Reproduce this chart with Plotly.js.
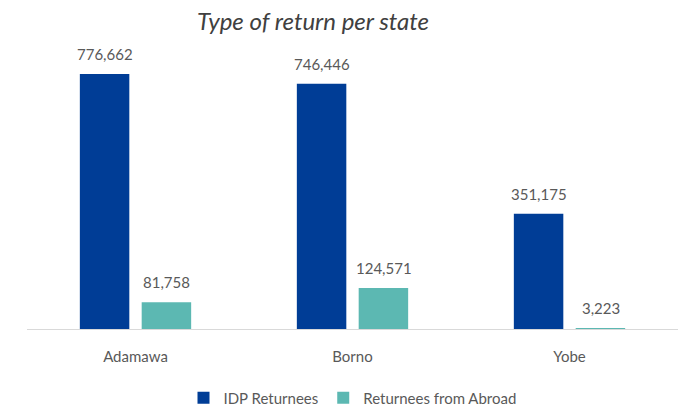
<!DOCTYPE html>
<html>
<head>
<meta charset="utf-8">
<script src="https://cdn.plot.ly/plotly-3.0.1.min.js"></script>
<style>html,body{margin:0;padding:0;background:#fff}#chart{width:684px;height:407px}</style>
</head>
<body>
<div id="chart"></div>
<script>
const states = ["Adamawa", "Borno", "Yobe"];
const idpReturnees = [776662, 746446, 351175];
const abroadReturnees = [81758, 124571, 3223];
const seriesNames = ["IDP Returnees", "Returnees from Abroad"];
const colors = ["#003d96", "#5cb8b2"];

const fontFamily = "Lato, 'Open Sans', sans-serif";
const txtColor = "#595959";

const traces = [
  {type: "bar", name: seriesNames[0], x: states, y: idpReturnees, marker: {color: colors[0]}, hoverinfo: "none"},
  {type: "bar", name: seriesNames[1], x: states, y: abroadReturnees, marker: {color: colors[1]}, hoverinfo: "none"}
];

const fmt = v => v.toLocaleString("en-US");
const annotations = [];
[idpReturnees, abroadReturnees].forEach((arr, si) => {
  arr.forEach((v, i) => {
    annotations.push({
      x: states[i], y: v, xref: "x", yref: "y",
      text: fmt(v), showarrow: false,
      xshift: si === 0 ? -31 : 31,
      yanchor: "bottom", yshift: 9,
      font: {family: fontFamily, size: 15, color: txtColor}
    });
  });
});

const layout = {
  width: 684, height: 407,
  margin: {l: 27, r: 6, t: 40, b: 78, autoexpand: false},
  paper_bgcolor: "#fff", plot_bgcolor: "#fff",
  title: {text: "<i>Type of return per state</i>", x: 313/684, xanchor: "center", y: 1 - 22/407, yanchor: "middle",
          font: {family: fontFamily, size: 24, color: "#404040"}},
  barmode: "group", bargap: 0.43, bargroupgap: 0.2,
  xaxis: {showline: true, linecolor: "#d9d9d9", linewidth: 1, ticks: "", showgrid: false, automargin: false,
          tickfont: {family: fontFamily, size: 15, color: txtColor}, ticklabelstandoff: 14},
  yaxis: {range: [0, 880000], visible: false, showgrid: false, zeroline: false, automargin: false},
  showlegend: true,
  legend: {orientation: "h", x: 342/684, xanchor: "center", xref: "paper",
           yref: "container", y: 1 - 398/407, yanchor: "middle",
           font: {family: fontFamily, size: 15, color: txtColor}, itemwidth: 30, traceorder: "normal"},
  annotations: annotations
};

Plotly.newPlot("chart", traces, layout, {displayModeBar: false, staticPlot: true});
</script>
</body>
</html>
